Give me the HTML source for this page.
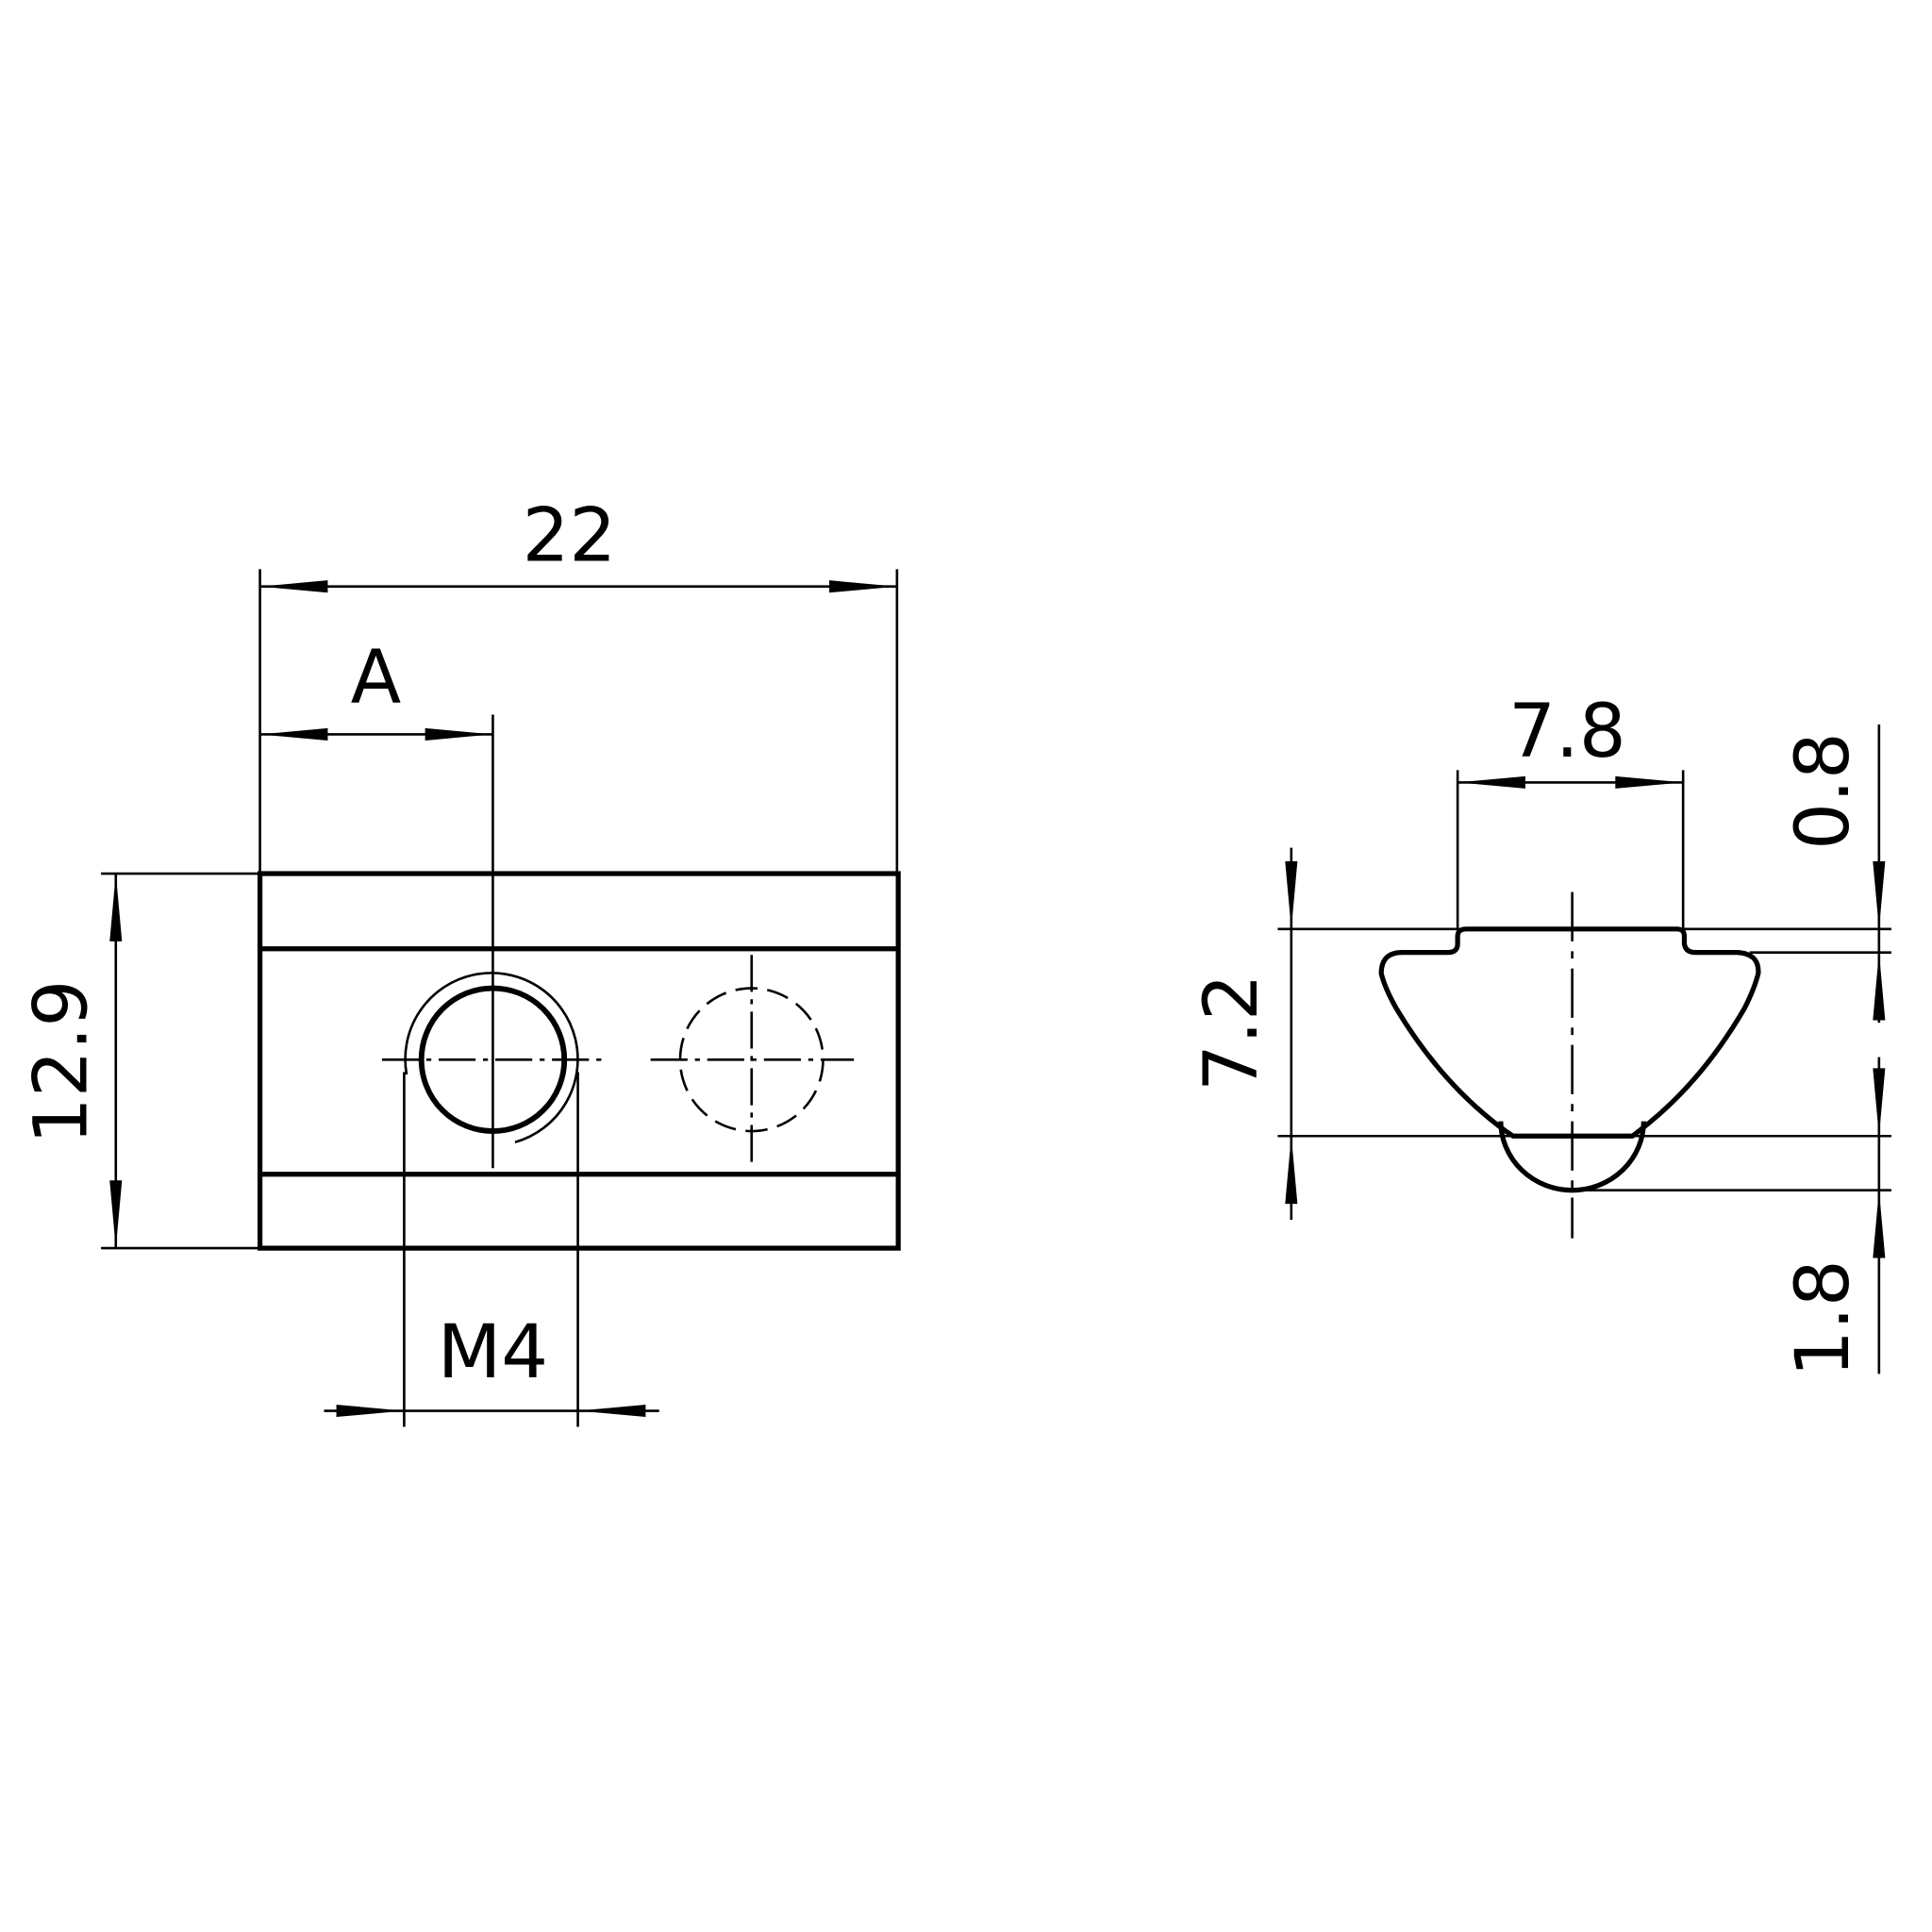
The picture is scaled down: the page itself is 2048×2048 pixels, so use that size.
<!DOCTYPE html>
<html><head><style>html,body{margin:0;padding:0;background:#fff}svg{display:block}</style></head>
<body>
<svg width="2048" height="2048" viewBox="0 0 1568 1568" xmlns="http://www.w3.org/2000/svg" font-family="'DejaVu Sans','Liberation Sans',sans-serif" font-size="60">
<g stroke="#000" fill="none">
<rect x="211" y="709" width="518" height="304" stroke-width="4"/>
<line x1="211" y1="770" x2="729" y2="770" stroke-width="4"/>
<line x1="211" y1="953" x2="729" y2="953" stroke-width="4"/>
<g stroke-width="2">
<line x1="211" y1="462" x2="211" y2="709"/>
<line x1="728" y1="462" x2="728" y2="709"/>
<line x1="400" y1="580" x2="400" y2="948"/>
<line x1="82" y1="709" x2="211" y2="709"/>
<line x1="82" y1="1013" x2="211" y2="1013"/>
<line x1="328" y1="870" x2="328" y2="1158"/>
<line x1="469" y1="870" x2="469" y2="1158"/>
<line x1="211" y1="476" x2="728" y2="476"/>
<line x1="211" y1="596" x2="400" y2="596"/>
<line x1="94" y1="709" x2="94" y2="1013"/>
<line x1="263" y1="1145" x2="535" y2="1145"/>
</g>
<g stroke="none" fill="#000">
<path d="M211,476 L266,471 L266,481Z"/><path d="M728,476 L673,471 L673,481Z"/>
<path d="M211,596 L266,591 L266,601Z"/><path d="M400,596 L345,591 L345,601Z"/>
<path d="M94,709 L89,764 L99,764Z"/><path d="M94,1013 L89,958 L99,958Z"/>
<path d="M328,1145 L273,1140 L273,1150Z"/><path d="M469,1145 L524,1140 L524,1150Z"/>
</g>
<circle cx="400" cy="860" r="58" stroke-width="4.5"/>
<path d="M330,872 A70,70 0 1 1 418,927" stroke-width="2"/>
<line x1="310" y1="860" x2="490" y2="860" stroke-width="2" stroke-dasharray="30,6,4,6"/>
<circle cx="610" cy="860" r="58" stroke-width="2" stroke-dasharray="18,8"/>
<line x1="528" y1="860" x2="693" y2="860" stroke-width="2" stroke-dasharray="30,6,4,6"/>
<line x1="610" y1="775" x2="610" y2="945" stroke-width="2" stroke-dasharray="30,6,4,6"/>

<path d="M1190,754 L1361,754 Q1367,754 1367,760 L1367,766 Q1368,773 1376,773 L1410,773 Q1428,774 1427,790 Q1424,802 1416,818 Q1380,880 1330,918 L1325,922 L1228,922 L1222,918 Q1170,880 1133,818 Q1124,802 1121,790 Q1121,773 1138,773 L1175,773 Q1183,773 1183,766 L1183,760 Q1183,754 1190,754 Z" stroke-width="4" stroke-linejoin="round"/>
<path d="M1218,910 A58,56 0 0 0 1334,910" stroke-width="4"/>
<line x1="1276" y1="724" x2="1276" y2="1005" stroke-width="2" stroke-dasharray="40,8,6,8"/>
<g stroke-width="2">
<line x1="1037" y1="754" x2="1535" y2="754"/>
<line x1="1420" y1="773" x2="1535" y2="773"/>
<line x1="1037" y1="922" x2="1535" y2="922"/>
<line x1="1276" y1="966" x2="1535" y2="966"/>
<line x1="1183" y1="625" x2="1183" y2="754"/>
<line x1="1366" y1="625" x2="1366" y2="754"/>
<line x1="1183" y1="635" x2="1366" y2="635"/>
<line x1="1048" y1="688" x2="1048" y2="990"/>
<line x1="1525" y1="588" x2="1525" y2="830"/>
<line x1="1525" y1="858" x2="1525" y2="1115"/>
</g>
<g stroke="none" fill="#000">
<path d="M1183,635 L1238,630 L1238,640Z"/><path d="M1366,635 L1311,630 L1311,640Z"/>
<path d="M1048,754 L1043,699 L1053,699Z"/><path d="M1048,922 L1043,977 L1053,977Z"/>
<path d="M1525,754 L1520,699 L1530,699Z"/><path d="M1525,773 L1520,828 L1530,828Z"/>
<path d="M1525,922 L1520,867 L1530,867Z"/><path d="M1525,966 L1520,1021 L1530,1021Z"/>
</g>
</g>
<g fill="#000" text-anchor="middle">
<text x="462" y="455">22</text>
<text x="305" y="570">A</text>
<text x="400" y="1118">M4</text>
<text x="1272" y="614">7.8</text>
<text transform="translate(70,862) rotate(-90)">12.9</text>
<text transform="translate(1020,838) rotate(-90)">7.2</text>
<text transform="translate(1500,642) rotate(-90)">0.8</text>
<text transform="translate(1500,1070) rotate(-90)">1.8</text>
</g>
</svg>
</body></html>
